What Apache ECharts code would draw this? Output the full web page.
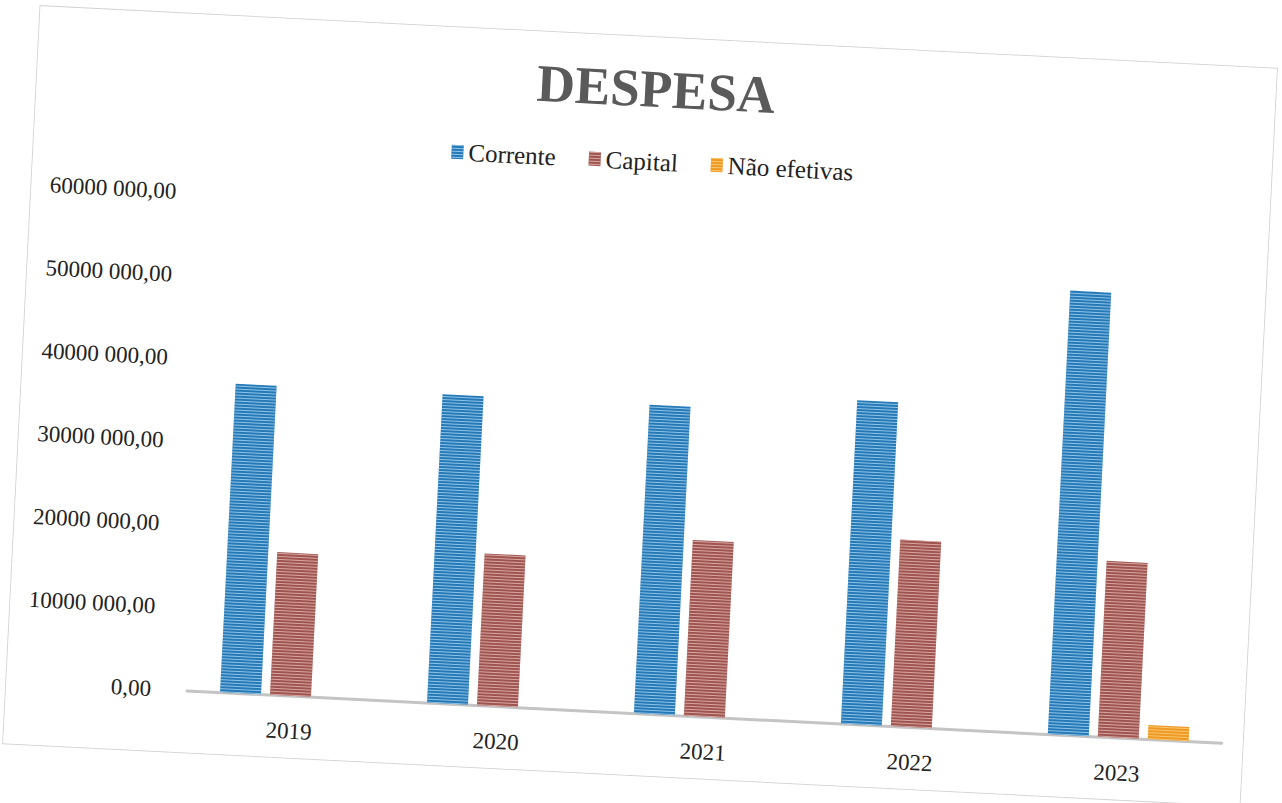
<!DOCTYPE html>
<html>
<head>
<meta charset="utf-8">
<script src="https://cdn.jsdelivr.net/npm/echarts@6/dist/echarts.min.js"></script>
<style>
  html, body { margin: 0; padding: 0; background: #ffffff; width: 1282px; height: 803px; overflow: hidden; }
  #frame {
    position: absolute; left: 20px; top: 36px; width: 1240px; height: 740px;
    box-sizing: border-box; border: 1px solid #d6d6d6; background: #ffffff;
    transform: rotate(2.9deg); transform-origin: 50% 50%;
  }
  #chart { position: absolute; left: 0; top: 0; width: 1238px; height: 738px; }
</style>
</head>
<body>
<div id="frame"><div id="chart"></div></div>
<script>
const categories = ['2019', '2020', '2021', '2022', '2023'];
const corrente = [37200000, 37200000, 37200000, 39000000, 53500000];
const capital = [17200000, 18300000, 21200000, 22500000, 21200000];
const naoEfetivas = [0, 0, 0, 0, 1700000];
const seriesNames = ['Corrente', 'Capital', 'Não efetivas'];
const yMin = 0;
const yMax = 60000000;
const yInterval = 10000000;

const serif = '"Liberation Serif", "DejaVu Serif", serif';
function stripes(c) {
  return { symbol: 'rect', symbolSize: 1, dashArrayX: [1, 0], dashArrayY: [1, 2], color: c, rotation: 0 };
}

const chart = echarts.init(document.getElementById('chart'), null, { renderer: 'svg' });
chart.setOption({
  animation: false,
  backgroundColor: '#ffffff',
  title: {
    text: 'DESPESA', left: 'center', top: 20,
    textStyle: { fontFamily: serif, fontSize: 53, fontWeight: 'bold', color: '#5a5a5a' }
  },
  legend: {
    top: 107, left: 'center', itemWidth: 12, itemHeight: 14, itemGap: 33,
    icon: 'rect',
    textStyle: { fontFamily: serif, fontSize: 25, color: '#222222' },
    data: seriesNames
  },
  grid: { left: 181, right: 21, top: 178, bottom: 62, containLabel: false },
  xAxis: {
    type: 'category', data: categories,
    axisLine: { show: true, lineStyle: { color: '#c4c4c4', width: 3 } },
    axisTick: { show: false },
    axisLabel: { margin: 24, fontFamily: serif, fontSize: 23, color: '#222222' }
  },
  yAxis: {
    type: 'value', min: yMin, max: yMax, interval: yInterval,
    axisLine: { show: false }, axisTick: { show: false }, splitLine: { show: false },
    axisLabel: {
      margin: 36, fontFamily: serif, fontSize: 23, color: '#222222',
      formatter: function (v) { return v === 0 ? '0,00' : (v / 1000) + ' 000,00'; }
    }
  },
  series: [
    { name: seriesNames[0], type: 'bar', data: corrente, barWidth: 41, barGap: '22%',
      itemStyle: { color: '#2579b6', decal: stripes('rgba(185,225,250,0.72)') } },
    { name: seriesNames[1], type: 'bar', data: capital, barWidth: 41, barGap: '22%',
      itemStyle: { color: '#9e5450', decal: stripes('rgba(240,198,190,0.72)') } },
    { name: seriesNames[2], type: 'bar', data: naoEfetivas, barWidth: 41, barGap: '22%',
      itemStyle: { color: '#ee9a22', decal: stripes('rgba(252,214,140,0.72)') } }
  ]
});
</script>
</body>
</html>
